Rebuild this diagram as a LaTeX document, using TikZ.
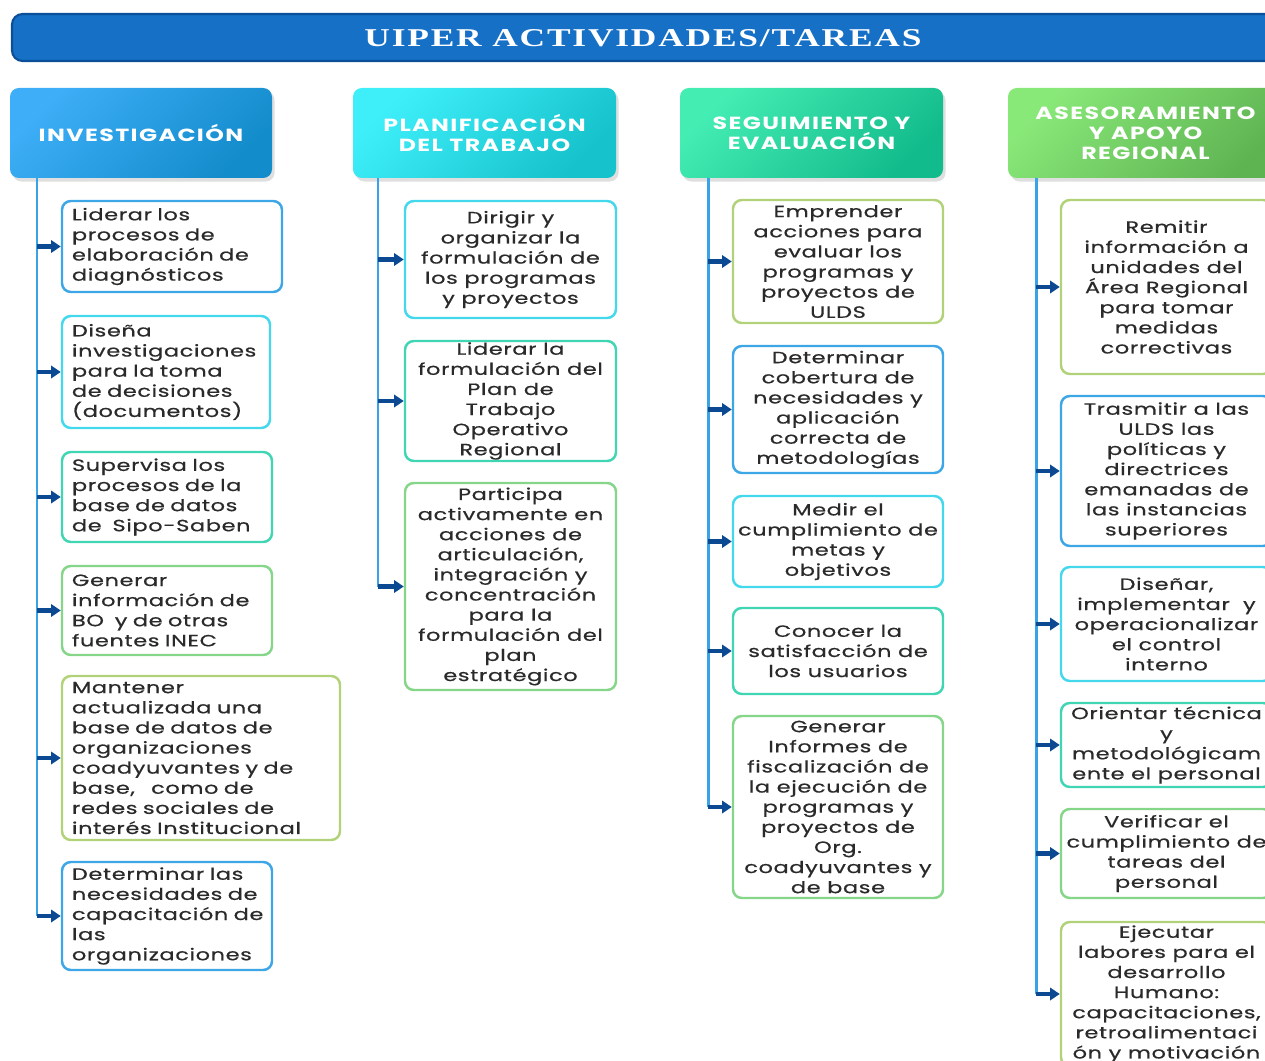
\documentclass[tikz,border=0pt]{standalone}
\usepackage{fontspec}
\usetikzlibrary{arrows.meta,shadows}
\newfontfamily\boxfont[FakeStretch=1.37,LetterSpace=4,FakeBold=0.6]{Poppins}
\newfontfamily\headfont[FakeStretch=1.35,LetterSpace=8]{Poppins}
\newfontfamily\titlefont[FakeStretch=1.38,LetterSpace=7]{Liberation Serif}
\definecolor{barfill}{HTML}{1570C6}
\definecolor{barline}{HTML}{0C4F99}
\definecolor{hAa}{HTML}{3DAEF7}\definecolor{hAb}{HTML}{138CCB}
\definecolor{hBa}{HTML}{3EEFF9}\definecolor{hBb}{HTML}{16C2CC}
\definecolor{hCa}{HTML}{44EDB2}\definecolor{hCb}{HTML}{12BB8B}
\definecolor{hDa}{HTML}{88E878}\definecolor{hDb}{HTML}{5FB452}
\definecolor{cBlue}{HTML}{3CA6E6}
\definecolor{cCyan}{HTML}{44D8EC}
\definecolor{cTeal}{HTML}{40D6B4}
\definecolor{cGreen}{HTML}{86D68A}
\definecolor{cOlive}{HTML}{B2D27A}
\definecolor{trunkc}{HTML}{38A4E6}
\definecolor{arrc}{HTML}{0B4A92}
\definecolor{txt}{HTML}{2A2A2A}
\def\px{0.02cm}
\tikzset{
  box/.style n args={3}{draw=#1, line width=1.4pt, rounded corners=5pt, fill=white,
    inner sep=0pt, minimum width=#2*\px, minimum height=#3*\px,
    text=txt, font=\boxfont\fontsize{9.3pt}{11.45pt}\selectfont},
  lbox/.style n args={3}{box={#1}{#2}{#3}, text width=#2*\px-20*\px, align=left},
  cbox/.style n args={3}{box={#1}{#2}{#3}, align=center},
  head/.style n args={2}{rounded corners=5pt, top color=#1, bottom color=#2, shading angle=45,
    drop shadow={opacity=0.25, shadow xshift=1.5pt, shadow yshift=-2pt},
    minimum width=263*\px, minimum height=90*\px, inner sep=0pt, align=center,
    text=white, font=\headfont\bfseries\fontsize{10pt}{11.3pt}\selectfont},
  trunk/.style={draw=trunkc, line width=1.7pt},
  arr/.style={draw=arrc, line width=2.3pt, -{Triangle[length=5.5pt,width=7pt]}},
}
\begin{document}
\begin{tikzpicture}[x=0.02cm,y=-0.02cm]
\useasboundingbox (0,0) rectangle (1265,1061);
\clip (0,0) rectangle (1265,1061);
% title bar
\node[draw=barline, line width=1.2pt, fill=barfill, rounded corners=6pt,
  minimum width=1290*\px, minimum height=47*\px, inner sep=0pt] (bar) at (657,37.5) {};
\node[text=white, font=\titlefont\bfseries\fontsize{14.6pt}{16pt}\selectfont, inner sep=0pt]
  (title) at (643,38.5) {UIPER ACTIVIDADES/TAREAS};
% headers
\node[head={hAa}{hAb}, minimum width=262*\px] (h1) at (141,133) {INVESTIGACIÓN};
\node[head={hBa}{hBb}] (h2) at (484.5,133) {PLANIFICACIÓN\\DEL TRABAJO};
\node[head={hCa}{hCb}] (h3) at (811.5,133) {SEGUIMIENTO Y\\EVALUACIÓN};
\node[head={hDa}{hDb}, minimum width=275*\px] (h4) at (1145.5,133) {ASESORAMIENTO\\Y APOYO\\REGIONAL};
% trunk starts
\coordinate (t1) at (37,178);
\coordinate (t2) at (378,178);
\coordinate (t3) at (708,178);
\coordinate (t4) at (1036,178);
% column 1
\node[lbox={cBlue}{220}{91}] (b11) at (172,246.5) {Liderar~los\\procesos~de\\elaboración~de\\diagnósticos};
\node[lbox={cCyan}{208}{112}] (b12) at (166,372) {Diseña\\investigaciones\\para~la~toma\\de~decisiones\\(documentos)};
\node[lbox={cTeal}{210}{90}] (b13) at (167,497) {Supervisa~los\\procesos~de~la\\base~de~datos\\de~~Sipo-Saben};
\node[lbox={cGreen}{210}{89}] (b14) at (167,610.5) {Generar\\información~de\\BO~~y~de~otras\\fuentes~INEC};
\node[lbox={cOlive}{278}{164}] (b15) at (201,758) {Mantener\\actualizada~una\\base~de~datos~de\\organizaciones\\coadyuvantes~y~de\\base,~~~como~de\\redes~sociales~de\\interés~Institucional};
\node[lbox={cBlue}{210}{108}] (b16) at (167,916) {Determinar~las\\necesidades~de\\capacitación~de\\las\\organizaciones};
% column 2
\node[cbox={cCyan}{211}{117}] (b21) at (510.5,259.5) {Dirigir y\\organizar la\\formulación de\\los programas\\y proyectos};
\node[cbox={cTeal}{211}{120}] (b22) at (510.5,401) {Liderar la\\formulación del\\Plan de\\Trabajo\\Operativo\\Regional};
\node[cbox={cGreen}{211}{207}] (b23) at (510.5,586.5) {Participa\\activamente en\\acciones de\\articulación,\\integración y\\concentración\\para la\\formulación del\\plan\\estratégico};
% column 3
\node[cbox={cOlive}{210}{123}] (b31) at (838,261.5) {Emprender\\acciones para\\evaluar los\\programas y\\proyectos de\\ULDS};
\node[cbox={cBlue}{210}{127}] (b32) at (838,409.5) {Determinar\\cobertura de\\necesidades y\\aplicación\\correcta de\\metodologías};
\node[cbox={cCyan}{210}{91}] (b33) at (838,541.5) {Medir el\\cumplimiento de\\metas y\\objetivos};
\node[cbox={cTeal}{210}{86}] (b34) at (838,651) {Conocer la\\satisfacción de\\los usuarios};
\node[cbox={cGreen}{210}{182}] (b35) at (838,807) {Generar\\Informes de\\fiscalización de\\la ejecución de\\programas y\\proyectos de\\Org.\\coadyuvantes y\\de base};
% column 4
\node[cbox={cOlive}{211}{174}] (b41) at (1166.5,287) {Remitir\\información a\\unidades del\\Área Regional\\para tomar\\medidas\\correctivas};
\node[cbox={cBlue}{211}{150}] (b42) at (1166.5,471) {Trasmitir a las\\ULDS las\\políticas y\\directrices\\emanadas de\\las instancias\\superiores};
\node[cbox={cCyan}{211}{114}] (b43) at (1166.5,624) {Diseñar,\\implementar\ \ y\\operacionalizar\\el control\\interno};
\node[cbox={cTeal}{211}{84}] (b44) at (1166.5,745) {Orientar técnica\\y\\metodológicam\\ente el personal};
\node[cbox={cGreen}{211}{89}] (b45) at (1166.5,853.5) {Verificar el\\cumplimiento de\\tareas del\\personal};
\node[cbox={cOlive}{211}{144}] (b46) at (1166.5,994) {Ejecutar\\labores para el\\desarrollo\\Humano:\\capacitaciones,\\retroalimentaci\\ón y motivación};
% trunks
\draw[trunk] (t1) -- (t1 |- b16.west);
\draw[trunk] (t2) -- (t2 |- b23.west);
\draw[trunk] (t3) -- (t3 |- b35.west);
\draw[trunk] (t4) -- (t4 |- b46.west);
% arrows
\foreach \b in {b11,b12,b13,b14,b15,b16}{\draw[arr] (t1 |- \b.west) -- (\b.west);}
\foreach \b in {b21,b22,b23}{\draw[arr] (t2 |- \b.west) -- (\b.west);}
\foreach \b in {b31,b32,b33,b34,b35}{\draw[arr] (t3 |- \b.west) -- (\b.west);}
\foreach \b in {b41,b42,b43,b44,b45,b46}{\draw[arr] (t4 |- \b.west) -- (\b.west);}
\end{tikzpicture}
\end{document}
